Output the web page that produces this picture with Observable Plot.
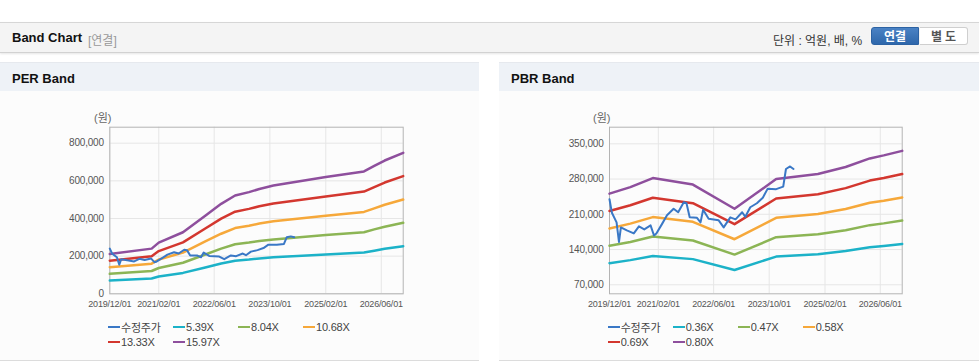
<!DOCTYPE html>
<html><head><meta charset="utf-8">
<script src="https://cdn.jsdelivr.net/npm/d3@7"></script>
<script src="https://cdn.jsdelivr.net/npm/@observablehq/plot@0.6"></script>
<style>
body{margin:0;background:#fff;font-family:"Liberation Sans","Noto Sans CJK KR",sans-serif;}
#root{position:relative;width:979px;height:362px;overflow:hidden;background:#fff}
.topbar{position:absolute;left:0;top:22px;width:979px;height:29px;background:#f4f4f4;border-top:1px solid #d6d6d6;border-bottom:1px solid #d2d2d2;box-shadow:0 1px 2px rgba(0,0,0,0.10)}
.t1{position:absolute;left:12px;top:7px;font-size:13px;font-weight:bold;color:#111}
.t2{position:absolute;left:88px;top:8px;font-size:12px;color:#999}
.unit{position:absolute;left:773px;top:8px;font-size:12px;color:#333}
.btn{position:absolute;top:4px;height:18px;width:48px;font-size:12px;font-weight:bold;text-align:center;line-height:18px;box-sizing:border-box}
.on{left:871px;background:linear-gradient(#4a82c4,#2e67ab);color:#fff;border:1px solid #2c62a3;border-radius:3px 0 0 3px}
.off{left:920px;background:#fff;color:#555;border:1px solid #cfcfcf;border-left:none;border-radius:0 3px 3px 0;letter-spacing:3px;padding-left:3px}
.panel{position:absolute;top:62px;height:298px;background:#fcfcfc;border-bottom:1px solid #dcdcdc}
.ph{position:absolute;left:0;top:0;right:0;height:29px;background:#eef2f7;border-top:1px solid #e6e9ee;box-sizing:border-box}
.ph span{position:absolute;left:12px;top:8px;font-size:13px;font-weight:bold;color:#111}
.unitlab{position:absolute;font-size:11px;color:#666}
.chart{position:absolute;top:95px}
.legend{position:absolute;top:320px;width:270px;display:flex;flex-wrap:wrap}
.item{width:65px;height:14.6px;display:flex;align-items:center;font-size:11px;color:#444;letter-spacing:-0.2px;white-space:nowrap}
.sw{display:inline-block;width:12px;height:2px;margin-right:1px}
</style></head>
<body><div id="root">
<div class="topbar"><span class="t1">Band Chart</span><span class="t2">[연결]</span>
<span class="unit">단위 : 억원, 배, %</span>
<span class="btn on">연결</span><span class="btn off">별도</span></div>
<div class="panel" style="left:0;width:479px"><div class="ph"><span>PER Band</span></div></div>
<div class="panel" style="left:499px;width:480px"><div class="ph"><span>PBR Band</span></div></div>
<div class="unitlab" style="left:94px;top:109px">(원)</div>
<div class="unitlab" style="left:593px;top:109px">(원)</div>
<div class="chart" id="per" style="left:0"></div>
<div class="chart" id="pbr" style="left:499px"></div>
<div class="legend" id="perLeg" style="left:108px"></div>
<div class="legend" id="pbrLeg" style="left:607.7px"></div>
</div>
<script>
// ---- data ----
const xTickLabels = ["2019/12/01","2021/02/01","2022/06/01","2023/10/01","2025/02/01","2026/06/01"];
const xStart = "2019-12-01", xEnd = "2026-12-10";

const priceName = "수정주가";
const priceDates = ["2019-12-01","2019-12-22","2020-02-01","2020-02-22","2020-03-10","2020-05-01","2020-07-01","2020-08-15","2020-10-01","2020-11-25","2020-12-25","2021-01-15","2021-03-06","2021-04-18","2021-06-15","2021-07-25","2021-09-12","2021-10-06","2021-11-03","2022-01-06","2022-02-06","2022-03-01","2022-04-18","2022-07-15","2022-08-28","2022-10-25","2022-12-10","2023-02-06","2023-03-06","2023-04-18","2023-06-15","2023-08-06","2023-09-18","2023-12-01","2024-02-01","2024-02-25","2024-04-01","2024-05-01"];
const priceValues = [240000,213000,194000,155000,184000,178000,172000,186000,180000,188000,168000,172000,191000,208000,221000,214000,234000,232000,204000,203000,194000,219000,201000,198000,184000,204000,200000,214000,205000,224000,232000,243000,261000,260000,265000,300000,305000,300000];

const perNames = ["5.39X","8.04X","10.68X","13.33X","15.97X"];
const perDates = ["2019-12-01","2020-12-01","2021-02-01","2021-09-01","2022-03-15","2022-08-01","2022-12-01","2023-04-01","2023-07-01","2023-11-01","2025-02-01","2026-01-01","2026-04-01","2026-07-01","2026-12-10"];
const per539  = [71000,81000,92000,111000,140000,161000,176000,182000,188000,194000,209000,219000,229000,239000,253000];
const per804  = [106000,121000,137000,165000,209000,240000,263000,272000,281000,289000,312000,327000,342000,356000,377000];
const per1068 = [141000,160000,182000,219000,278000,319000,349000,361000,373000,385000,414000,435000,454000,473000,501000];
const per1333 = [176000,200000,227000,273000,347000,399000,436000,451000,465000,480000,517000,543000,567000,591000,625000];
const per1597 = [211000,240000,272000,327000,415000,478000,522000,540000,557000,575000,620000,650000,679000,708000,749000];
const perYTicks = [0,200000,400000,600000,800000];

const pbrNames = ["0.36X","0.47X","0.58X","0.69X","0.80X"];
const pbrDates = ["2019-12-01","2020-06-01","2020-12-15","2021-12-01","2022-12-01","2023-12-01","2024-12-01","2025-08-01","2026-03-01","2026-07-01","2026-12-10"];
const pbr036 = [113000,119000,127000,121000,99500,126000,130500,137000,144500,147000,151000];
const pbr047 = [147500,155000,166000,158000,130000,164500,170500,178500,188500,192000,197500];
const pbr058 = [182000,191500,204500,195000,160500,203000,210500,220500,233000,237000,243500];
const pbr069 = [216500,228000,243000,232000,190500,241500,250000,262000,277000,282000,290000];
const pbr080 = [251000,264000,282000,269000,221000,280000,290000,304000,321000,327000,336000];
const pbrYTicks = [70000,140000,210000,280000,350000];

const colors = ["#3a78c6","#1cb2c8","#8cb555","#f6a83a","#d3372f","#8e4f9d"];

// ---- build ----
const parse = d3.utcParse("%Y-%m-%d");
const tickDates = xTickLabels.map(s => d3.utcParse("%Y/%m/%d")(s));
const priceRows = priceDates.map((d,i)=>({date:parse(d), value:priceValues[i], series:priceName}));

function bandRows(names, dates, arrays){
  const rows=[];
  names.forEach((n,k)=>dates.forEach((d,i)=>rows.push({date:parse(d), value:arrays[k][i], series:n})));
  return rows;
}

function makeChart(names, rows, yDomain, yTicks, width, mL, mR){
  const domainNames=[priceName,...names];
  return Plot.plot({
    width, height:220, marginLeft:mL, marginRight:mR, marginTop:31.7, marginBottom:21.7,
    style:{fontFamily:'"Liberation Sans","Noto Sans CJK KR",sans-serif', background:"transparent", color:"#555", overflow:"visible"},
    x:{type:"utc", domain:[parse(xStart), parse(xEnd)]},
    y:{domain:yDomain},
    color:{domain:domainNames, range:colors},
    marks:[
      Plot.gridY(yTicks,{stroke:"#e6e6e6", strokeOpacity:1}),
      Plot.gridX(tickDates,{stroke:"#e6e6e6", strokeOpacity:1}),
      Plot.frame({stroke:"#b4b4b4"}),
      Plot.axisY(yTicks,{tickSize:0, tickPadding:6, tickFormat:d3.format(","), fontSize:10, fill:"#555", label:null}),
      Plot.axisX(tickDates,{tickSize:0, tickPadding:7, tickFormat:d3.utcFormat("%Y/%m/%d"), fontSize:9, fill:"#555", label:null}),
      Plot.line(rows,{x:"date", y:"value", z:"series", stroke:"series", strokeWidth:2.5, curve:"linear"}),
      Plot.line(priceRows,{x:"date", y:"value", stroke:"series", strokeWidth:2})
    ]
  });
}

document.getElementById("per").append(
  makeChart(perNames, bandRows(perNames, perDates, [per539,per804,per1068,per1333,per1597]), [0,885000], perYTicks, 479, 109.3, 76.3));
document.getElementById("pbr").append(
  makeChart(pbrNames, bandRows(pbrNames, pbrDates, [pbr036,pbr047,pbr058,pbr069,pbr080]), [52130,383000], pbrYTicks, 480, 110, 77.3));

function legend(id, names){
  const el=document.getElementById(id);
  [priceName,...names].forEach((n,i)=>{
    const it=document.createElement("div"); it.className="item";
    it.innerHTML=`<span class="sw" style="background:${colors[i]}"></span><span>${n}</span>`;
    el.append(it);
  });
}
legend("perLeg", perNames);
legend("pbrLeg", pbrNames);
document.querySelectorAll("svg text").forEach(t=>t.setAttribute("letter-spacing","-0.2"));
</script>
</body></html>
